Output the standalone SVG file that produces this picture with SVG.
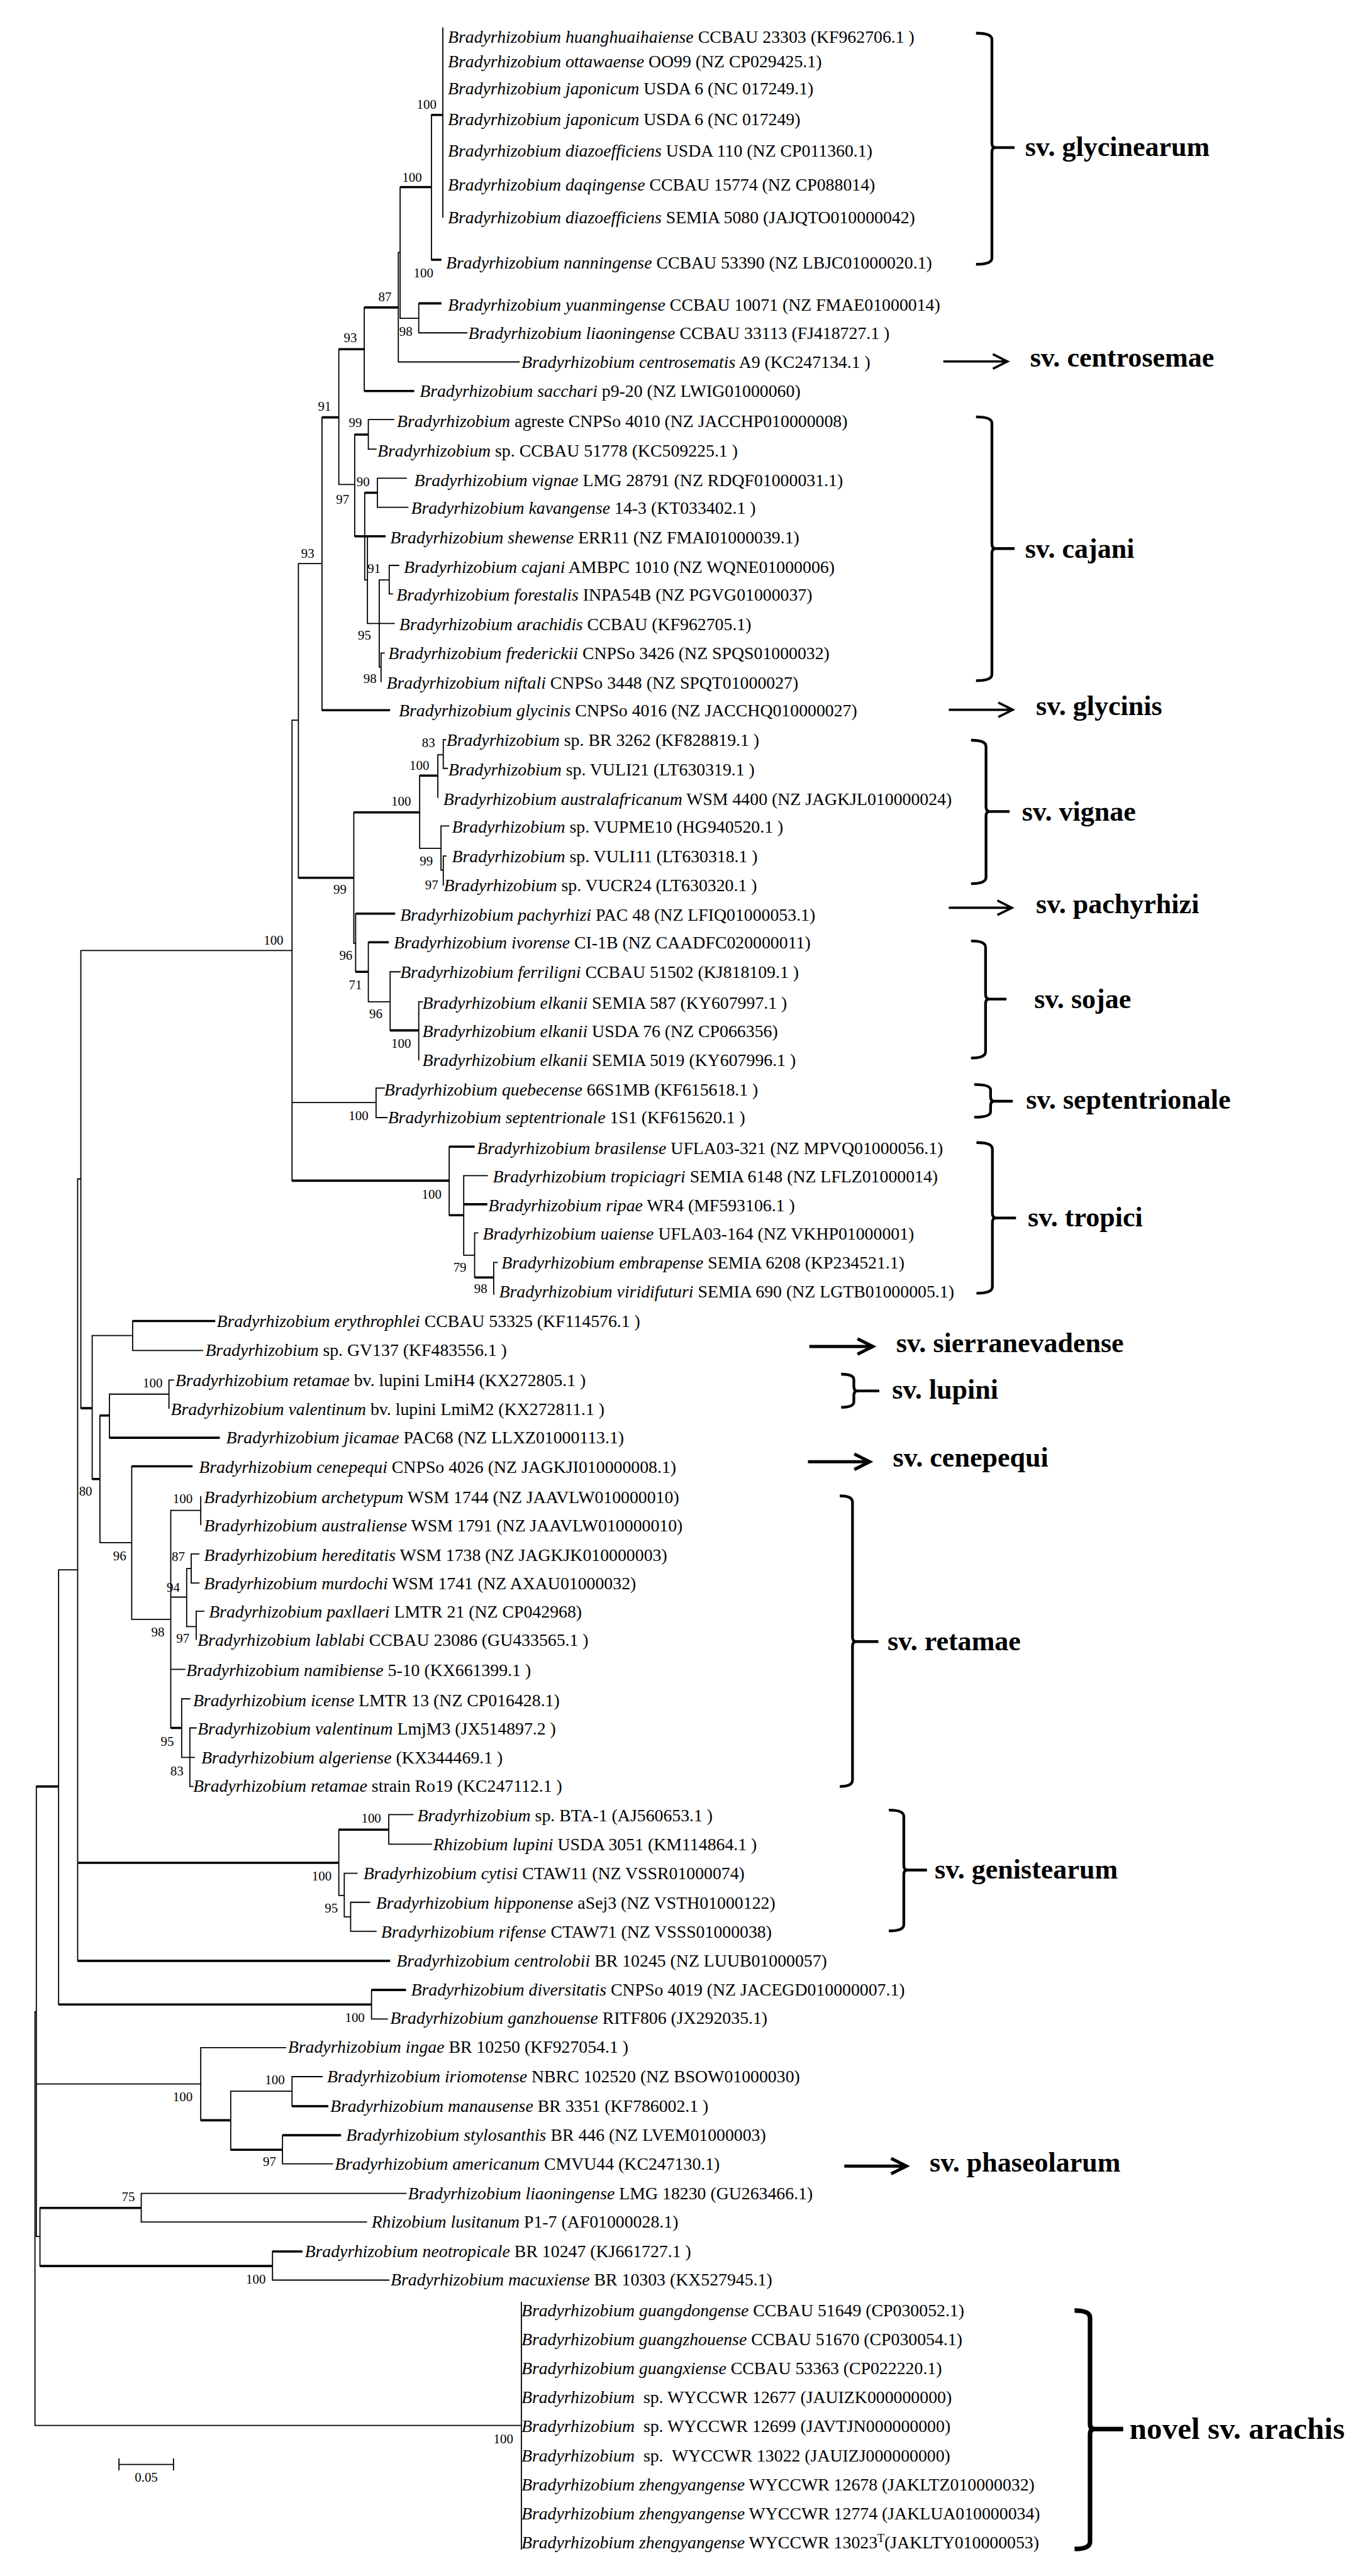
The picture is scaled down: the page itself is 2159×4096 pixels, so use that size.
<svg xmlns="http://www.w3.org/2000/svg" width="2159" height="4096" viewBox="0 0 2159 4096">
<style>
.t{font-family:"Liberation Serif","Times New Roman",serif;font-size:38.5px;fill:#000}
.i{font-style:italic}
.b{font-family:"Liberation Serif","Times New Roman",serif;font-size:29px;fill:#000;text-anchor:end}
.sv{font-family:"Liberation Serif","Times New Roman",serif;font-weight:bold;font-size:61px;fill:#000}
.nv{font-size:68px}
.thin{fill:none;stroke:#000;stroke-width:2.5;stroke-linecap:square}
.thick{fill:none;stroke:#000;stroke-width:5;stroke-linecap:butt}
.brace{fill:none;stroke:#000;stroke-width:6}
.arr{fill:none;stroke:#000;stroke-width:5}
.arr2{fill:none;stroke:#000;stroke-width:7}
</style>
<rect width="2159" height="4096" fill="#fff"/>
<g transform="scale(0.72207)">
<g id="connectors">
<path class="thin" d="M975 62V478M950 253V572M881 412V701M877 556H881M877 556V797M922 668V733M881 701H922M922 733H1028M877 797H1143M802 677V861M746 769V1067M746 1067H781M781 957V1181M811 924V989M811 924H867M811 989H828M803 1085V1277M831 1053V1117M831 1053H895M831 1117H898M803 1277H809M809 1181V1373M835 1277H857M857 1245V1308M857 1245H878M857 1308H864M835 1277V1469M809 1373H868M835 1469H839M839 1438V1501M839 1438H846M709 919V1564M657 1241H709M657 1241V1933M643 1586H657M779 1789V2077M924 1708V1868M964 1662V1756M964 1662H976M976 1629V1692M976 1629H981M976 1692H985M924 1868H971M971 1819V1916M971 1819H988M971 1916H976M976 1885V1949M976 1885H982M779 2077H783M783 2012V2140M811 2075V2206M811 2206H859M859 2140V2269M859 2140H881M922 2206V2334M922 2206H930M643 1586V2600M178 2093H643M643 2428H828M828 2396V2461M828 2396H846M828 2461H852M989 2525V2676M1021 2589V2764M1021 2589H1073M1045 2715H1052M1021 2764H1045M1045 2715V2813M1087 2780V2850M1087 2780H1095M178 2093V3101M171 2596H178M171 2596V4318M203 2941V3257M203 2941H292M292 2909V2974M292 2974H446M220 3117V3397M241 3070V3166M241 3070H372M372 3039V3101M372 3039H382M220 3397H290M290 3229V3566M290 3566H376M376 3326V3805M376 3326H442M442 3296V3357M421 3422V3486M421 3422H438M421 3486H438M411 3454H421M411 3454V3582M376 3517H411M411 3582H432M432 3548V3610M432 3548H449M376 3676H407M400 3741V3870M400 3741H418M400 3870H428M418 3805V3934M418 3805H432M418 3934H425M129 3457H171M129 3457V4414M746 4029V4174M856 3996V4061M856 3996H909M856 4061H950M746 4174H758M758 4125V4221M758 4125H786M758 4221H772M772 4189V4253M772 4189H814M772 4253H828M818 4382V4446M818 4446H853M80 3934V4925M77 4430H80M77 4430V5341M80 4589H442M442 4509V4669M442 4509H629M508 4605V4734M508 4605H643M643 4573V4638M643 4573H709M622 4702V4765M622 4765H732M80 4925H88M88 4862V4990M311 4830V4893M311 4830H894M311 4893H807M600 4958V5021M600 5021H856M77 5341H1148M1148 5070V5613"/>
<path class="thick" d="M950 253H975M950 572H972M881 412H950M802 677H877M922 668H972M746 769H802M802 861H912M709 919H746M781 957H811M781 1181H849M803 1085H831M709 1564H859M657 1933H779M779 1789H924M924 1708H964M783 2012H870M811 2075H856M783 2140H811M859 2269H922M643 2600H989M989 2525H1045M989 2676H1021M1021 2652H1073M1045 2813H1087M292 2909H474M178 3101H203M203 3257H220M220 3117H241M241 3166H484M290 3229H424M376 3805H400M80 3934H129M171 4102H746M746 4029H856M171 4318H859M129 4414H818M818 4382H894M442 4669H508M508 4734H622M643 4638H723M622 4702H751M88 4862H311M88 4990H600M600 4958H666"/>
</g>
<g id="bootstrap">
<text class="b" x="961" y="239">100</text><text class="b" x="929" y="400">100</text><text class="b" x="954" y="611">100</text><text class="b" x="862" y="664">87</text><text class="b" x="908" y="739">98</text><text class="b" x="786" y="753">93</text><text class="b" x="729" y="904">91</text><text class="b" x="797" y="941">99</text><text class="b" x="814" y="1070">90</text><text class="b" x="769" y="1109">97</text><text class="b" x="838" y="1262">91</text><text class="b" x="692" y="1228">93</text><text class="b" x="817" y="1409">95</text><text class="b" x="829" y="1504">98</text><text class="b" x="958" y="1645">83</text><text class="b" x="945" y="1695">100</text><text class="b" x="905" y="1774">100</text><text class="b" x="953" y="1906">99</text><text class="b" x="965" y="1958">97</text><text class="b" x="763" y="1968">99</text><text class="b" x="624" y="2080">100</text><text class="b" x="776" y="2114">96</text><text class="b" x="797" y="2178">71</text><text class="b" x="842" y="2242">96</text><text class="b" x="905" y="2307">100</text><text class="b" x="811" y="2467">100</text><text class="b" x="972" y="2640">100</text><text class="b" x="1027" y="2800">79</text><text class="b" x="1073" y="2848">98</text><text class="b" x="358" y="3055">100</text><text class="b" x="203" y="3294">80</text><text class="b" x="424" y="3310">100</text><text class="b" x="278" y="3436">96</text><text class="b" x="407" y="3438">87</text><text class="b" x="396" y="3505">94</text><text class="b" x="362" y="3603">98</text><text class="b" x="417" y="3617" font-size="24">97</text><text class="b" x="383" y="3844">95</text><text class="b" x="404" y="3909">83</text><text class="b" x="839" y="4014">100</text><text class="b" x="730" y="4141">100</text><text class="b" x="744" y="4212">95</text><text class="b" x="803" y="4453">100</text><text class="b" x="627" y="4590">100</text><text class="b" x="424" y="4627">100</text><text class="b" x="608" y="4769">97</text><text class="b" x="297" y="4847">75</text><text class="b" x="585" y="5029">100</text><text class="b" x="1130" y="5381">100</text>
</g>
<g id="leaves">
<g id="l01"><text class="t" x="986" y="94"><tspan class="i">Bradyrhizobium huanghuaihaiense</tspan> CCBAU 23303 (KF962706.1 )</text></g>
<g id="l02"><text class="t" x="986" y="148"><tspan class="i">Bradyrhizobium ottawaense</tspan> OO99 (NZ CP029425.1)</text></g>
<g id="l03"><text class="t" x="986" y="208"><tspan class="i">Bradyrhizobium japonicum</tspan> USDA 6 (NC 017249.1)</text></g>
<g id="l04"><text class="t" x="986" y="276"><tspan class="i">Bradyrhizobium japonicum</tspan> USDA 6 (NC 017249)</text></g>
<g id="l05"><text class="t" x="986" y="345"><tspan class="i">Bradyrhizobium diazoefficiens</tspan> USDA 110 (NZ CP011360.1)</text></g>
<g id="l06"><text class="t" x="986" y="419"><tspan class="i">Bradyrhizobium daqingense</tspan> CCBAU 15774 (NZ CP088014)</text></g>
<g id="l07"><text class="t" x="986" y="491"><tspan class="i">Bradyrhizobium diazoefficiens</tspan> SEMIA 5080 (JAJQTO010000042)</text></g>
<g id="l08"><text class="t" x="982" y="591"><tspan class="i">Bradyrhizobium nanningense</tspan> CCBAU 53390 (NZ LBJC01000020.1)</text></g>
<g id="l09"><text class="t" x="986" y="684"><tspan class="i">Bradyrhizobium yuanmingense</tspan> CCBAU 10071 (NZ FMAE01000014)</text></g>
<g id="l10"><text class="t" x="1031" y="746"><tspan class="i">Bradyrhizobium liaoningense</tspan> CCBAU 33113 (FJ418727.1 )</text></g>
<g id="l11"><text class="t" x="1148" y="810"><tspan class="i">Bradyrhizobium centrosematis</tspan> A9 (KC247134.1 )</text></g>
<g id="l12"><text class="t" x="924" y="874"><tspan class="i">Bradyrhizobium sacchari</tspan> p9-20 (NZ LWIG01000060)</text></g>
<g id="l13"><text class="t" x="874" y="941"><tspan class="i">Bradyrhizobium</tspan> agreste CNPSo 4010 (NZ JACCHP010000008)</text></g>
<g id="l14"><text class="t" x="831" y="1005"><tspan class="i">Bradyrhizobium</tspan> sp. CCBAU 51778 (KC509225.1 )</text></g>
<g id="l15"><text class="t" x="912" y="1070"><tspan class="i">Bradyrhizobium vignae</tspan> LMG 28791 (NZ RDQF01000031.1)</text></g>
<g id="l16"><text class="t" x="905" y="1132"><tspan class="i">Bradyrhizobium kavangense</tspan> 14-3 (KT033402.1 )</text></g>
<g id="l17"><text class="t" x="859" y="1196"><tspan class="i">Bradyrhizobium shewense</tspan> ERR11 (NZ FMAI01000039.1)</text></g>
<g id="l18"><text class="t" x="889" y="1261"><tspan class="i">Bradyrhizobium cajani</tspan> AMBPC 1010 (NZ WQNE01000006)</text></g>
<g id="l19"><text class="t" x="873" y="1322"><tspan class="i">Bradyrhizobium forestalis</tspan> INPA54B (NZ PGVG01000037)</text></g>
<g id="l20"><text class="t" x="879" y="1387"><tspan class="i">Bradyrhizobium arachidis</tspan> CCBAU (KF962705.1)</text></g>
<g id="l21"><text class="t" x="855" y="1451"><tspan class="i">Bradyrhizobium frederickii</tspan> CNPSo 3426 (NZ SPQS01000032)</text></g>
<g id="l22"><text class="t" x="851" y="1516"><tspan class="i">Bradyrhizobium niftali</tspan> CNPSo 3448 (NZ SPQT01000027)</text></g>
<g id="l23"><text class="t" x="878" y="1578"><tspan class="i">Bradyrhizobium glycinis</tspan> CNPSo 4016 (NZ JACCHQ010000027)</text></g>
<g id="l24"><text class="t" x="983" y="1643"><tspan class="i">Bradyrhizobium</tspan> sp. BR 3262 (KF828819.1 )</text></g>
<g id="l25"><text class="t" x="987" y="1707"><tspan class="i">Bradyrhizobium</tspan> sp. VULI21 (LT630319.1 )</text></g>
<g id="l26"><text class="t" x="976" y="1772"><tspan class="i">Bradyrhizobium australafricanum</tspan> WSM 4400 (NZ JAGKJL010000024)</text></g>
<g id="l27"><text class="t" x="995" y="1834"><tspan class="i">Bradyrhizobium</tspan> sp. VUPME10 (HG940520.1 )</text></g>
<g id="l28"><text class="t" x="995" y="1899"><tspan class="i">Bradyrhizobium</tspan> sp. VULI11 (LT630318.1 )</text></g>
<g id="l29"><text class="t" x="977" y="1963"><tspan class="i">Bradyrhizobium</tspan> sp. VUCR24 (LT630320.1 )</text></g>
<g id="l30"><text class="t" x="881" y="2027"><tspan class="i">Bradyrhizobium pachyrhizi</tspan> PAC 48 (NZ LFIQ01000053.1)</text></g>
<g id="l31"><text class="t" x="867" y="2089"><tspan class="i">Bradyrhizobium ivorense</tspan> CI-1B (NZ CAADFC020000011)</text></g>
<g id="l32"><text class="t" x="881" y="2153"><tspan class="i">Bradyrhizobium ferriligni</tspan> CCBAU 51502 (KJ818109.1 )</text></g>
<g id="l33"><text class="t" x="930" y="2222"><tspan class="i">Bradyrhizobium elkanii</tspan> SEMIA 587 (KY607997.1 )</text></g>
<g id="l34"><text class="t" x="930" y="2284"><tspan class="i">Bradyrhizobium elkanii</tspan> USDA 76 (NZ CP066356)</text></g>
<g id="l35"><text class="t" x="930" y="2347"><tspan class="i">Bradyrhizobium elkanii</tspan> SEMIA 5019 (KY607996.1 )</text></g>
<g id="l36"><text class="t" x="846" y="2412"><tspan class="i">Bradyrhizobium quebecense</tspan> 66S1MB (KF615618.1 )</text></g>
<g id="l37"><text class="t" x="854" y="2474"><tspan class="i">Bradyrhizobium septentrionale</tspan> 1S1 (KF615620.1 )</text></g>
<g id="l38"><text class="t" x="1050" y="2541"><tspan class="i">Bradyrhizobium brasilense</tspan> UFLA03-321 (NZ MPVQ01000056.1)</text></g>
<g id="l39"><text class="t" x="1085" y="2603"><tspan class="i">Bradyrhizobium tropiciagri</tspan> SEMIA 6148 (NZ LFLZ01000014)</text></g>
<g id="l40"><text class="t" x="1075" y="2667"><tspan class="i">Bradyrhizobium ripae</tspan> WR4 (MF593106.1 )</text></g>
<g id="l41"><text class="t" x="1063" y="2729"><tspan class="i">Bradyrhizobium uaiense</tspan> UFLA03-164 (NZ VKHP01000001)</text></g>
<g id="l42"><text class="t" x="1104" y="2793"><tspan class="i">Bradyrhizobium embrapense</tspan> SEMIA 6208 (KP234521.1)</text></g>
<g id="l43"><text class="t" x="1099" y="2857"><tspan class="i">Bradyrhizobium viridifuturi</tspan> SEMIA 690 (NZ LGTB01000005.1)</text></g>
<g id="l44"><text class="t" x="477" y="2922"><tspan class="i">Bradyrhizobium erythrophlei</tspan> CCBAU 53325 (KF114576.1 )</text></g>
<g id="l45"><text class="t" x="452" y="2986"><tspan class="i">Bradyrhizobium</tspan> sp. GV137 (KF483556.1 )</text></g>
<g id="l46"><text class="t" x="386" y="3053"><tspan class="i">Bradyrhizobium retamae</tspan> bv. lupini LmiH4 (KX272805.1 )</text></g>
<g id="l47"><text class="t" x="376" y="3116"><tspan class="i">Bradyrhizobium valentinum</tspan> bv. lupini LmiM2 (KX272811.1 )</text></g>
<g id="l48"><text class="t" x="498" y="3179"><tspan class="i">Bradyrhizobium jicamae</tspan> PAC68 (NZ LLXZ01000113.1)</text></g>
<g id="l49"><text class="t" x="438" y="3243"><tspan class="i">Bradyrhizobium cenepequi</tspan> CNPSo 4026 (NZ JAGKJI010000008.1)</text></g>
<g id="l50"><text class="t" x="449" y="3310"><tspan class="i">Bradyrhizobium archetypum</tspan> WSM 1744 (NZ JAAVLW010000010)</text></g>
<g id="l51"><text class="t" x="449" y="3372"><tspan class="i">Bradyrhizobium australiense</tspan> WSM 1791 (NZ JAAVLW010000010)</text></g>
<g id="l52"><text class="t" x="449" y="3437"><tspan class="i">Bradyrhizobium hereditatis</tspan> WSM 1738 (NZ JAGKJK010000003)</text></g>
<g id="l53"><text class="t" x="449" y="3500"><tspan class="i">Bradyrhizobium murdochi</tspan> WSM 1741 (NZ AXAU01000032)</text></g>
<g id="l54"><text class="t" x="460" y="3562"><tspan class="i">Bradyrhizobium paxllaeri</tspan> LMTR 21 (NZ CP042968)</text></g>
<g id="l55"><text class="t" x="435" y="3624"><tspan class="i">Bradyrhizobium lablabi</tspan> CCBAU 23086 (GU433565.1 )</text></g>
<g id="l56"><text class="t" x="410" y="3691"><tspan class="i">Bradyrhizobium namibiense</tspan> 5-10 (KX661399.1 )</text></g>
<g id="l57"><text class="t" x="425" y="3757"><tspan class="i">Bradyrhizobium icense</tspan> LMTR 13 (NZ CP016428.1)</text></g>
<g id="l58"><text class="t" x="435" y="3819"><tspan class="i">Bradyrhizobium valentinum</tspan> LmjM3 (JX514897.2 )</text></g>
<g id="l59"><text class="t" x="443" y="3883"><tspan class="i">Bradyrhizobium algeriense</tspan> (KX344469.1 )</text></g>
<g id="l60"><text class="t" x="425" y="3945"><tspan class="i">Bradyrhizobium retamae</tspan> strain Ro19 (KC247112.1 )</text></g>
<g id="l61"><text class="t" x="919" y="4010"><tspan class="i">Bradyrhizobium</tspan> sp. BTA-1 (AJ560653.1 )</text></g>
<g id="l62"><text class="t" x="954" y="4074"><tspan class="i">Rhizobium lupini</tspan> USDA 3051 (KM114864.1 )</text></g>
<g id="l63"><text class="t" x="800" y="4138"><tspan class="i">Bradyrhizobium cytisi</tspan> CTAW11 (NZ VSSR01000074)</text></g>
<g id="l64"><text class="t" x="828" y="4203"><tspan class="i">Bradyrhizobium hipponense</tspan> aSej3 (NZ VSTH01000122)</text></g>
<g id="l65"><text class="t" x="839" y="4267"><tspan class="i">Bradyrhizobium rifense</tspan> CTAW71 (NZ VSSS01000038)</text></g>
<g id="l66"><text class="t" x="873" y="4331"><tspan class="i">Bradyrhizobium centrolobii</tspan> BR 10245 (NZ LUUB01000057)</text></g>
<g id="l67"><text class="t" x="905" y="4395"><tspan class="i">Bradyrhizobium diversitatis</tspan> CNPSo 4019 (NZ JACEGD010000007.1)</text></g>
<g id="l68"><text class="t" x="859" y="4457"><tspan class="i">Bradyrhizobium ganzhouense</tspan> RITF806 (JX292035.1)</text></g>
<g id="l69"><text class="t" x="634" y="4521"><tspan class="i">Bradyrhizobium ingae</tspan> BR 10250 (KF927054.1 )</text></g>
<g id="l70"><text class="t" x="720" y="4586"><tspan class="i">Bradyrhizobium iriomotense</tspan> NBRC 102520 (NZ BSOW01000030)</text></g>
<g id="l71"><text class="t" x="727" y="4650"><tspan class="i">Bradyrhizobium manausense</tspan> BR 3351 (KF786002.1 )</text></g>
<g id="l72"><text class="t" x="762" y="4714"><tspan class="i">Bradyrhizobium stylosanthis</tspan> BR 446 (NZ LVEM01000003)</text></g>
<g id="l73"><text class="t" x="737" y="4778"><tspan class="i">Bradyrhizobium americanum</tspan> CMVU44 (KC247130.1)</text></g>
<g id="l74"><text class="t" x="898" y="4843"><tspan class="i">Bradyrhizobium liaoningense</tspan> LMG 18230 (GU263466.1)</text></g>
<g id="l75"><text class="t" x="818" y="4905"><tspan class="i">Rhizobium lusitanum</tspan> P1-7 (AF01000028.1)</text></g>
<g id="l76"><text class="t" x="671" y="4971"><tspan class="i">Bradyrhizobium neotropicale</tspan> BR 10247 (KJ661727.1 )</text></g>
<g id="l77"><text class="t" x="860" y="5033"><tspan class="i">Bradyrhizobium macuxiense</tspan> BR 10303 (KX527945.1)</text></g>
<g id="l78"><text class="t" x="1148" y="5100"><tspan class="i">Bradyrhizobium guangdongense</tspan> CCBAU 51649 (CP030052.1)</text></g>
<g id="l79"><text class="t" x="1148" y="5164"><tspan class="i">Bradyrhizobium guangzhouense</tspan> CCBAU 51670 (CP030054.1)</text></g>
<g id="l80"><text class="t" x="1148" y="5228"><tspan class="i">Bradyrhizobium guangxiense</tspan> CCBAU 53363 (CP022220.1)</text></g>
<g id="l81"><text class="t" x="1148" y="5292" xml:space="preserve"><tspan class="i">Bradyrhizobium</tspan>  sp. WYCCWR 12677 (JAUIZK000000000)</text></g>
<g id="l82"><text class="t" x="1148" y="5356" xml:space="preserve"><tspan class="i">Bradyrhizobium</tspan>  sp. WYCCWR 12699 (JAVTJN000000000)</text></g>
<g id="l83"><text class="t" x="1148" y="5420" xml:space="preserve"><tspan class="i">Bradyrhizobium</tspan>  sp.  WYCCWR 13022 (JAUIZJ000000000)</text></g>
<g id="l84"><text class="t" x="1148" y="5484"><tspan class="i">Bradyrhizobium zhengyangense</tspan> WYCCWR 12678 (JAKLTZ010000032)</text></g>
<g id="l85"><text class="t" x="1148" y="5548"><tspan class="i">Bradyrhizobium zhengyangense</tspan> WYCCWR 12774 (JAKLUA010000034)</text></g>
<g id="l86"><text class="t" x="1148" y="5612"><tspan class="i">Bradyrhizobium zhengyangense</tspan> WYCCWR 13023<tspan font-size="25" dy="-14">T</tspan><tspan dy="14">(JAKLTY010000053)</tspan></text></g>
</g>
<g id="symbiovars">
<g id="sv-glycinearum"><path class="brace" d="M2149,73 Q2184,73 2184,87 V315 Q2184,325 2192,325 Q2184,325 2184,335 V568 Q2184,582 2149,582 M2192,325 H2234"/><text class="sv" x="2257" y="343">sv. glycinearum</text></g>
<g id="sv-centrosemae"><path class="arr" d="M2077,796 H2218 M2186,780 L2218,796 L2186,812"/><text class="sv" x="2268" y="808">sv. centrosemae</text></g>
<g id="sv-cajani"><path class="brace" d="M2149,918 Q2184,918 2184,932 V1198 Q2184,1208 2192,1208 Q2184,1208 2184,1218 V1485 Q2184,1499 2149,1499 M2192,1208 H2234"/><text class="sv" x="2257" y="1228">sv. cajani</text></g>
<g id="sv-glycinis"><path class="arr" d="M2089,1563 H2230 M2198,1547 L2230,1563 L2198,1579"/><text class="sv" x="2281" y="1575">sv. glycinis</text></g>
<g id="sv-vignae"><path class="brace" d="M2138,1630 Q2171,1630 2171,1644 V1777 Q2171,1787 2179,1787 Q2171,1787 2171,1797 V1932 Q2171,1946 2138,1946 M2179,1787 H2223"/><text class="sv" x="2250" y="1807">sv. vignae</text></g>
<g id="sv-pachyrhizi"><path class="arr" d="M2089,1999 H2228 M2196,1983 L2228,1999 L2196,2015"/><text class="sv" x="2281" y="2011">sv. pachyrhizi</text></g>
<g id="sv-sojae"><path class="brace" d="M2138,2072 Q2170,2072 2170,2086 V2190 Q2170,2200 2178,2200 Q2170,2200 2170,2210 V2316 Q2170,2330 2138,2330 M2178,2200 H2216"/><text class="sv" x="2277" y="2220">sv. sojae</text></g>
<g id="sv-septentrionale"><path class="brace" d="M2145,2388 Q2181,2388 2181,2400 V2415 Q2181,2425 2189,2425 Q2181,2425 2181,2435 V2448 Q2181,2460 2145,2460 M2189,2425 H2230"/><text class="sv" x="2259" y="2442">sv. septentrionale</text></g>
<g id="sv-tropici"><path class="brace" d="M2150,2516 Q2185,2516 2185,2530 V2672 Q2185,2682 2193,2682 Q2185,2682 2185,2692 V2834 Q2185,2848 2150,2848 M2193,2682 H2237"/><text class="sv" x="2263" y="2700">sv. tropici</text></g>
<g id="sv-sierranevadense"><path class="arr2" d="M1782,2965 H1922 M1888,2948 L1922,2965 L1888,2982"/><text class="sv" x="1973" y="2978">sv. sierranevadense</text></g>
<g id="sv-lupini"><path class="brace" d="M1852,3026 Q1880,3026 1880,3038 V3053 Q1880,3063 1888,3063 Q1880,3063 1880,3073 V3087 Q1880,3099 1852,3099 M1888,3063 H1936"/><text class="sv" x="1964" y="3080">sv. lupini</text></g>
<g id="sv-cenepequi"><path class="arr2" d="M1779,3219 H1915 M1881,3202 L1915,3219 L1881,3236"/><text class="sv" x="1966" y="3229">sv. cenepequi</text></g>
<g id="sv-retamae"><path class="brace" d="M1849,3294 Q1877,3294 1877,3308 V3605 Q1877,3615 1885,3615 Q1877,3615 1877,3625 V3920 Q1877,3934 1849,3934 M1885,3615 H1934"/><text class="sv" x="1954" y="3634">sv. retamae</text></g>
<g id="sv-genistearum"><path class="brace" d="M1957,3986 Q1990,3986 1990,4000 V4108 Q1990,4118 1998,4118 Q1990,4118 1990,4128 V4238 Q1990,4252 1957,4252 M1998,4118 H2041"/><text class="sv" x="2058" y="4137">sv. genistearum</text></g>
<g id="sv-phaseolarum"><path class="arr2" d="M1859,4770 H1996 M1962,4753 L1996,4770 L1962,4787"/><text class="sv" x="2047" y="4782">sv. phaseolarum</text></g>
<g id="sv-arachis"><path class="brace" style="stroke-width:10" d="M2366,5088 Q2400,5088 2400,5104 V5337 Q2400,5349 2410,5349 Q2400,5349 2400,5361 V5597 Q2400,5613 2366,5613 M2410,5349 H2473"/><text class="sv nv" x="2487" y="5370">novel sv. arachis</text></g>
</g>
<g id="scalebar">
<path class="thin" d="M262 5427H382M262 5415V5439M382 5415V5439"/>
<text class="b" x="322" y="5465" style="text-anchor:middle">0.05</text>
</g>
</g>
</svg>
